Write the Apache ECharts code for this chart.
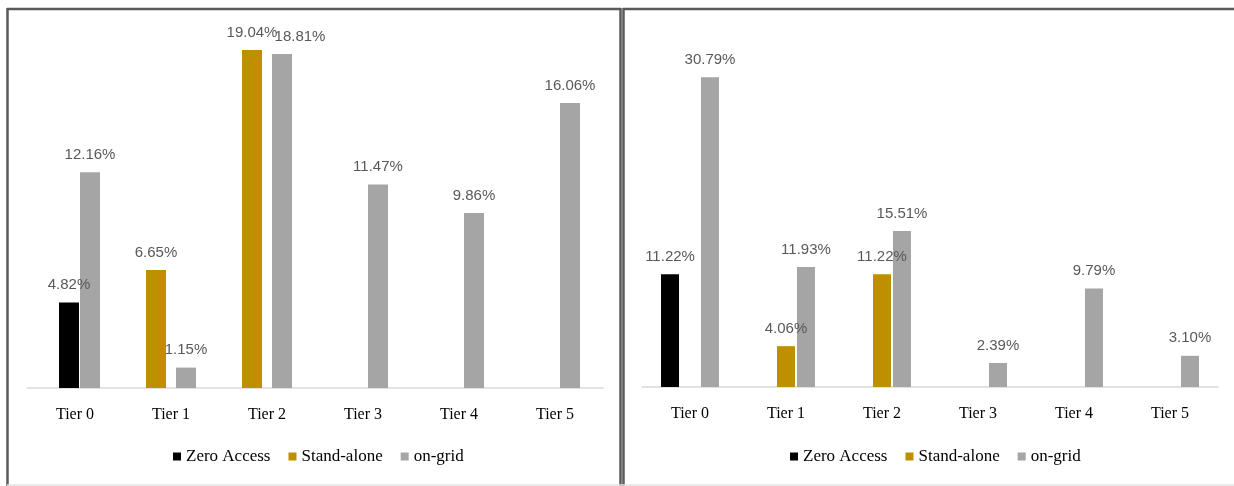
<!DOCTYPE html>
<html>
<head>
<meta charset="utf-8">
<script src="https://cdn.jsdelivr.net/npm/echarts@6/dist/echarts.min.js"></script>
<style>
  html, body { margin: 0; padding: 0; background: #fff; }
  #main { width: 1234px; height: 486px; }
</style>
</head>
<body>
<div id="main"></div>
<script>
var tiers = ['Tier 0', 'Tier 1', 'Tier 2', 'Tier 3', 'Tier 4', 'Tier 5'];
var seriesNames = ['Zero Access', 'Stand-alone', 'on-grid'];

// left panel
var leftZero = [4.82, null, null, null, null, null];
var leftStand = [null, 6.65, 19.04, null, null, null];
var leftGrid = [12.16, 1.15, 18.81, 11.47, 9.86, 16.06];

// right panel
var rightZero = [11.22, null, null, null, null, null];
var rightStand = [null, 4.06, 11.22, null, null, null];
var rightGrid = [30.79, 11.93, 15.51, 2.39, 9.79, 3.10];

var colors = ['#000000', '#bf8f00', '#a5a5a5'];

var myChart = echarts.init(document.getElementById('main'));

function barLabel() {
    return {
        show: true,
        position: 'top',
        distance: 10,
        color: '#595959',
        fontSize: 15,
        fontFamily: '"Liberation Sans Narrow", "Liberation Sans", sans-serif',
        formatter: function (p) { return p.value.toFixed(2) + '%'; }
    };
}

function catAxis(grid, show) {
    return {
        type: 'category',
        gridIndex: grid,
        data: tiers,
        show: show,
        axisLine: { show: true, lineStyle: { color: '#d9d9d9', width: 1.5 } },
        axisTick: { show: false },
        axisLabel: {
            color: '#000',
            fontSize: 16,
            fontFamily: '"Liberation Serif", serif',
            margin: 19
        }
    };
}

function valAxis(grid, max) {
    return { type: 'value', gridIndex: grid, min: 0, max: max, show: false, splitLine: { show: false } };
}

function bar(name, data, x, y, width, gap) {
    var s = {
        name: name,
        type: 'bar',
        xAxisIndex: x,
        yAxisIndex: y,
        data: data,
        barWidth: width,
        itemStyle: { color: colors[seriesNames.indexOf(name)] },
        label: barLabel()
    };
    if (gap) s.barGap = gap;
    return s;
}

var legendText = { color: '#000', fontSize: 17, fontFamily: '"Liberation Serif", serif' };

// panel borders
var dark = '#5a5a5a';
var graphics = [
    { type: 'line', shape: { x1: 7.5, y1: 8, x2: 7.5, y2: 486 }, style: { stroke: dark, lineWidth: 2.5 } },
    { type: 'line', shape: { x1: 7, y1: 9, x2: 621, y2: 9 }, style: { stroke: dark, lineWidth: 2.5 } },
    { type: 'line', shape: { x1: 620.5, y1: 8, x2: 620.5, y2: 486 }, style: { stroke: dark, lineWidth: 2.5 } },
    { type: 'line', shape: { x1: 623.5, y1: 8, x2: 623.5, y2: 486 }, style: { stroke: dark, lineWidth: 2.5 } },
    { type: 'line', shape: { x1: 623, y1: 9, x2: 1234, y2: 9 }, style: { stroke: dark, lineWidth: 2.5 } },
    { type: 'line', shape: { x1: 7, y1: 485, x2: 1234, y2: 485 }, style: { stroke: '#e3e3e3', lineWidth: 1.5 } }
];

var leftGridSeries = bar('on-grid', leftGrid, 0, 0, 20, '50%');
// Excel nudged the Tier 2 label right so it clears the neighbouring one
leftGridSeries.labelLayout = function (p) {
    return p.dataIndex === 2 ? { dx: 18 } : {};
};

option = {
    animation: false,
    backgroundColor: '#fff',
    grid: [
        { left: 27, width: 576, top: 33, height: 355 },
        { left: 21, width: 576, top: 33, height: 355 },
        { left: 642, width: 576, top: 35, height: 352 }
    ],
    xAxis: [catAxis(0, true), catAxis(1, false), catAxis(2, true)],
    yAxis: [valAxis(0, 20), valAxis(1, 20), valAxis(2, 35)],
    legend: [
        {
            data: seriesNames, left: 173, top: 448, padding: 0,
            icon: 'rect', itemWidth: 8, itemHeight: 8, itemGap: 18,
            textStyle: legendText
        },
        {
            data: seriesNames, left: 790, top: 448, padding: 0,
            icon: 'rect', itemWidth: 8, itemHeight: 8, itemGap: 18,
            textStyle: legendText
        }
    ],
    graphic: graphics,
    series: [
        bar('Stand-alone', leftStand, 0, 0, 20, '50%'),
        leftGridSeries,
        bar('Zero Access', leftZero, 1, 1, 20),
        bar('Zero Access', rightZero, 2, 2, 18, '11%'),
        bar('Stand-alone', rightStand, 2, 2, 18, '11%'),
        bar('on-grid', rightGrid, 2, 2, 18, '11%')
    ]
};
myChart.setOption(option);
</script>
</body>
</html>
